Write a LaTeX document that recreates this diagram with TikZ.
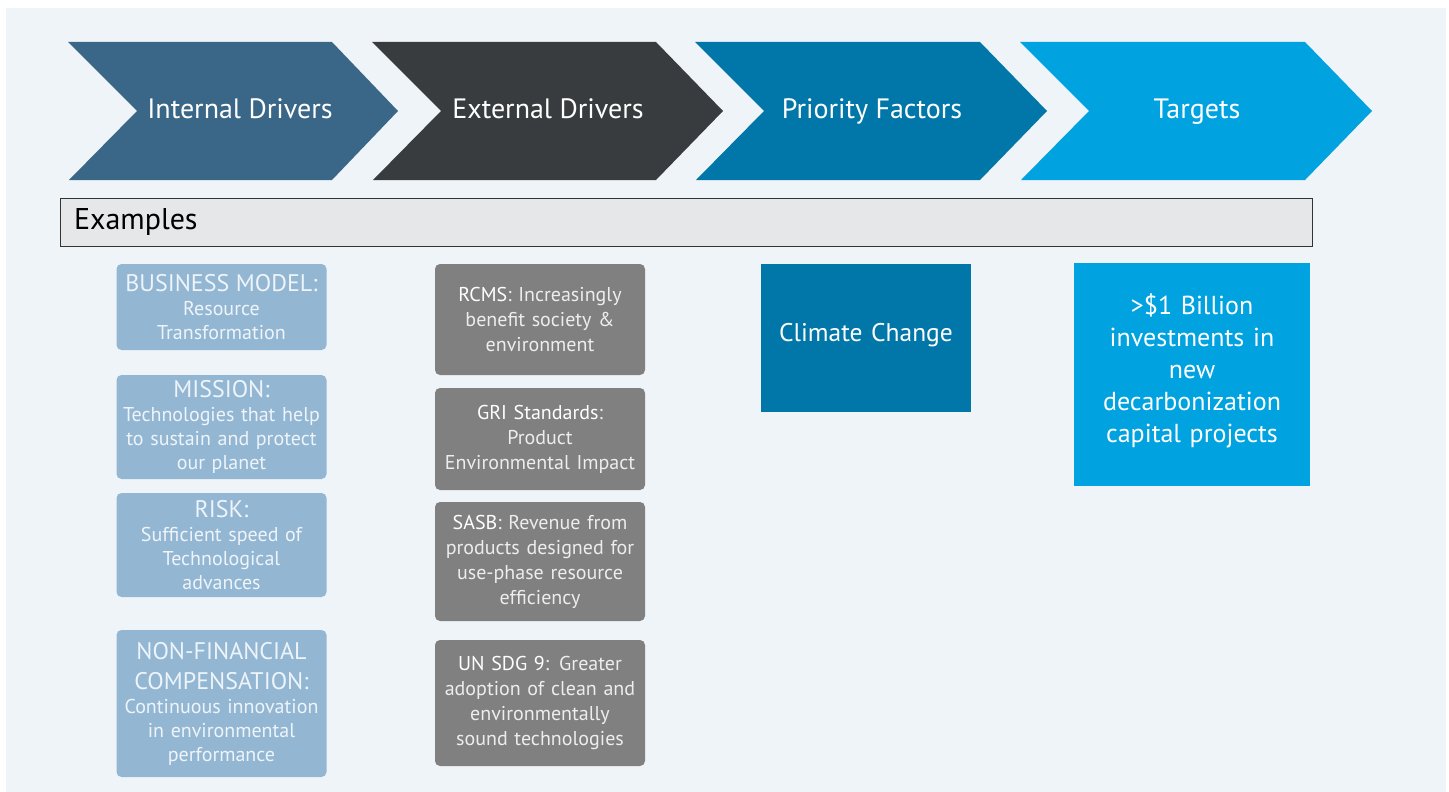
\documentclass[tikz,border=0pt]{standalone}
\usepackage{fontspec}
\setmainfont{PT Sans}
\usetikzlibrary{positioning}
\definecolor{bgblue}{HTML}{EFF4F8}
\definecolor{drvint}{HTML}{3A6787}
\definecolor{drvext}{HTML}{383C3E}
\definecolor{prio}{HTML}{0077A8}
\definecolor{targ}{HTML}{00A2E0}
\definecolor{exgray}{HTML}{E6E7E9}
\definecolor{intfill}{HTML}{93B7D3}
\definecolor{extfill}{HTML}{808080}
\definecolor{inttext}{HTML}{EEF4F9}
\definecolor{exttext}{HTML}{EDEDED}
\newcommand{\headfont}{\fontsize{24}{30}\selectfont}

\begin{document}
\begin{tikzpicture}[x=1pt,y=-1pt]%
            \useasboundingbox (0,0) rectangle (1449,792); %%
            \fill[bgblue] (6,8) rectangle (1446,792); %%
            % chevrons
            \fill[drvint] (68,42) -- (332,42) -- (398,111) -- (332,180) -- (69,180) -- (137,111) -- cycle; %%
            \fill[drvext] (372,42) -- (656,42) -- (723,111) -- (656,180) -- (373,180) -- (441,111) -- cycle; %%
            \fill[prio] (695,42) -- (980,42) -- (1047,111) -- (980,180) -- (696,180) -- (764,111) -- cycle; %%
            \fill[targ] (1020,42) -- (1305,42) -- (1372,111) -- (1305,180) -- (1021,180) -- (1089,111) -- cycle; %%
            \begin{scope}[text=white,font=\fontsize{28}{33}\selectfont]%
            \tikzstyle{every node}=[anchor=base] %%
            \node (intdrv) at (240,118) {Internal Drivers}; %%
            \node (extdrv) at (548,118) {External Drivers}; %%
            \node (prifac) at (872,118) {Priority Factors}; %%
            \node (tgts) at (1197,118) {Targets}; %%
            \end{scope}
            % examples bar
            \node[draw=black!80,fill=exgray,inner xsep=14pt,text width=1224pt,minimum height=48pt,align=left,font=\fontsize{30}{34}\selectfont] (exbar) at (686,222) {Examples}; %%
            % internal examples
            \begin{scope}[inner xsep=5pt,inner ysep=0pt,font=\fontsize{20}{24}\selectfont]%
            \tikzstyle{every node}=[fill=intfill,text=inttext,rounded corners=5pt,text width=200pt,align=center,minimum width=210pt] %%
            \node[minimum height=86pt] (bizmodel) at (221.5,307) {{\headfont BUSINESS MODEL:\par}Resource\\Transformation}; %%
            \node[minimum height=104pt] (mission) at (221.5,427) {{\headfont MISSION:\par}Technologies that help\\to sustain and protect\\our planet}; %%
            \node[minimum height=104pt] (risk) at (221.5,545) {{\headfont RISK:\par}Sufficient speed of\\Technological\\advances}; %%
            \node[minimum height=147pt] (nonfin) at (221.5,703.5) {{\headfont NON-FINANCIAL\\COMPENSATION:\par}Continuous innovation\\in environmental\\performance}; %%
            \end{scope}
            % external examples
            \begin{scope}[inner xsep=5pt,inner ysep=0pt,font=\fontsize{20}{25}\selectfont]%
            \tikzstyle{every node}=[fill=extfill,text=exttext,rounded corners=5pt,text width=200pt,align=center,minimum width=210pt] %%
            \node[minimum height=111pt] (rcms) at (540,319.5) {\textcolor{white}{RCMS}: Increasingly\\benefit society \&\\environment}; %%
            \node[minimum height=102pt] (gri) at (540,439) {\textcolor{white}{GRI Standards}:\\Product\\Environmental Impact}; %%
            \node[minimum height=119pt] (sasb) at (540,561.5) {\textcolor{white}{SASB}: Revenue from\\products designed for\\use-phase resource\\efficiency}; %%
            \node[minimum height=126pt] (sdg) at (540,703) {\textcolor{white}{UN SDG 9}: Greater\\adoption of clean and\\environmentally\\sound technologies}; %%
            \end{scope}
            % priority and target
            \node[fill=prio,text=white,minimum width=210pt,minimum height=148pt,text width=200pt,align=center,font=\fontsize{25.5}{32}\selectfont] (climate) at (866,338) {Climate Change\par\vspace{6pt}}; %%
            \node[fill=targ,text=white,minimum width=236pt,minimum height=223pt,text width=220pt,align=center,font=\fontsize{26}{32}\selectfont] (billion) at (1192,374.5) {>\$1 Billion\\investments in\\new\\decarbonization\\capital projects\par\vspace{8pt}}; %%
        \end{tikzpicture}
\end{document}
